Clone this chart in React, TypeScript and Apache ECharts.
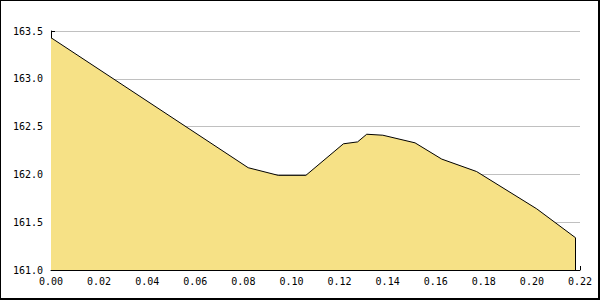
import React, { useEffect, useRef } from "react";
import * as echarts from "echarts";

const xValues = [0, 0.082, 0.0945, 0.106, 0.1216, 0.1275, 0.1313, 0.138, 0.1514, 0.1625, 0.177, 0.202, 0.218];
const yValues = [163.43, 162.07, 161.99, 161.99, 162.32, 162.34, 162.42, 162.41, 162.33, 162.16, 162.03, 161.64, 161.34];
const yMin = 161.0;
const yMax = 163.5;
const xMin = 0;
const xMax = 0.22;

const FONT = "'DejaVu Sans Mono', monospace";

export default function App() {
  const ref = useRef<HTMLDivElement>(null);
  useEffect(() => {
    document.body.style.margin = "0";
    const chart = echarts.init(ref.current!, null, { renderer: "svg" });
    const data = xValues.map((x, i) => [x, yValues[i]]);
    const last = data[data.length - 1];
    chart.setOption({
      animation: false,
      backgroundColor: "#ffffff",
      grid: { left: 51, top: 31, width: 529, height: 239, containLabel: false },
      xAxis: {
        type: "value",
        min: xMin,
        max: xMax,
        interval: 0.02,
        axisLine: { show: true, lineStyle: { color: "#000", width: 1 } },
        axisTick: { show: true, inside: true, length: 4, lineStyle: { color: "#000" } },
        axisLabel: {
          formatter: (v: number) => v.toFixed(2),
          fontFamily: FONT,
          fontSize: 10,
          color: "#000",
          margin: 6,
          showMaxLabel: true,
          showMinLabel: true,
        },
        splitLine: { show: false },
      },
      yAxis: {
        type: "value",
        min: yMin,
        max: yMax,
        interval: 0.5,
        axisLine: { show: true, lineStyle: { color: "#000", width: 1 } },
        axisTick: { show: true, inside: true, length: 4, lineStyle: { color: "#000" } },
        minorTick: { show: true, splitNumber: 5, length: 3, lineStyle: { color: "#000" } },
        axisLabel: {
          formatter: (v: number) => v.toFixed(1),
          fontFamily: FONT,
          fontSize: 10,
          color: "#000",
          margin: 8,
        },
        splitLine: { show: true, lineStyle: { color: "#c0c0c0", width: 1 } },
      },
      series: [
        {
          type: "line",
          data,
          symbol: "none",
          lineStyle: { color: "#000", width: 1 },
          areaStyle: { color: "#f6e186", opacity: 1 },
          markLine: {
            silent: true,
            symbol: "none",
            label: { show: false },
            lineStyle: { color: "#000", width: 1, type: "solid" },
            data: [[{ coord: [last[0], last[1]] }, { coord: [last[0], yMin] }]],
          },
        },
      ],
      graphic: [
        { type: "rect", shape: { x: 0, y: 0, width: 600, height: 1 }, style: { fill: "#000" } },
        { type: "rect", shape: { x: 0, y: 0, width: 1, height: 300 }, style: { fill: "#000" } },
        { type: "rect", shape: { x: 598, y: 0, width: 2, height: 300 }, style: { fill: "#000" } },
        { type: "rect", shape: { x: 0, y: 298, width: 600, height: 2 }, style: { fill: "#000" } },
      ],
    });
    return () => chart.dispose();
  }, []);
  return <div ref={ref} style={{ width: 600, height: 300 }} />;
}
